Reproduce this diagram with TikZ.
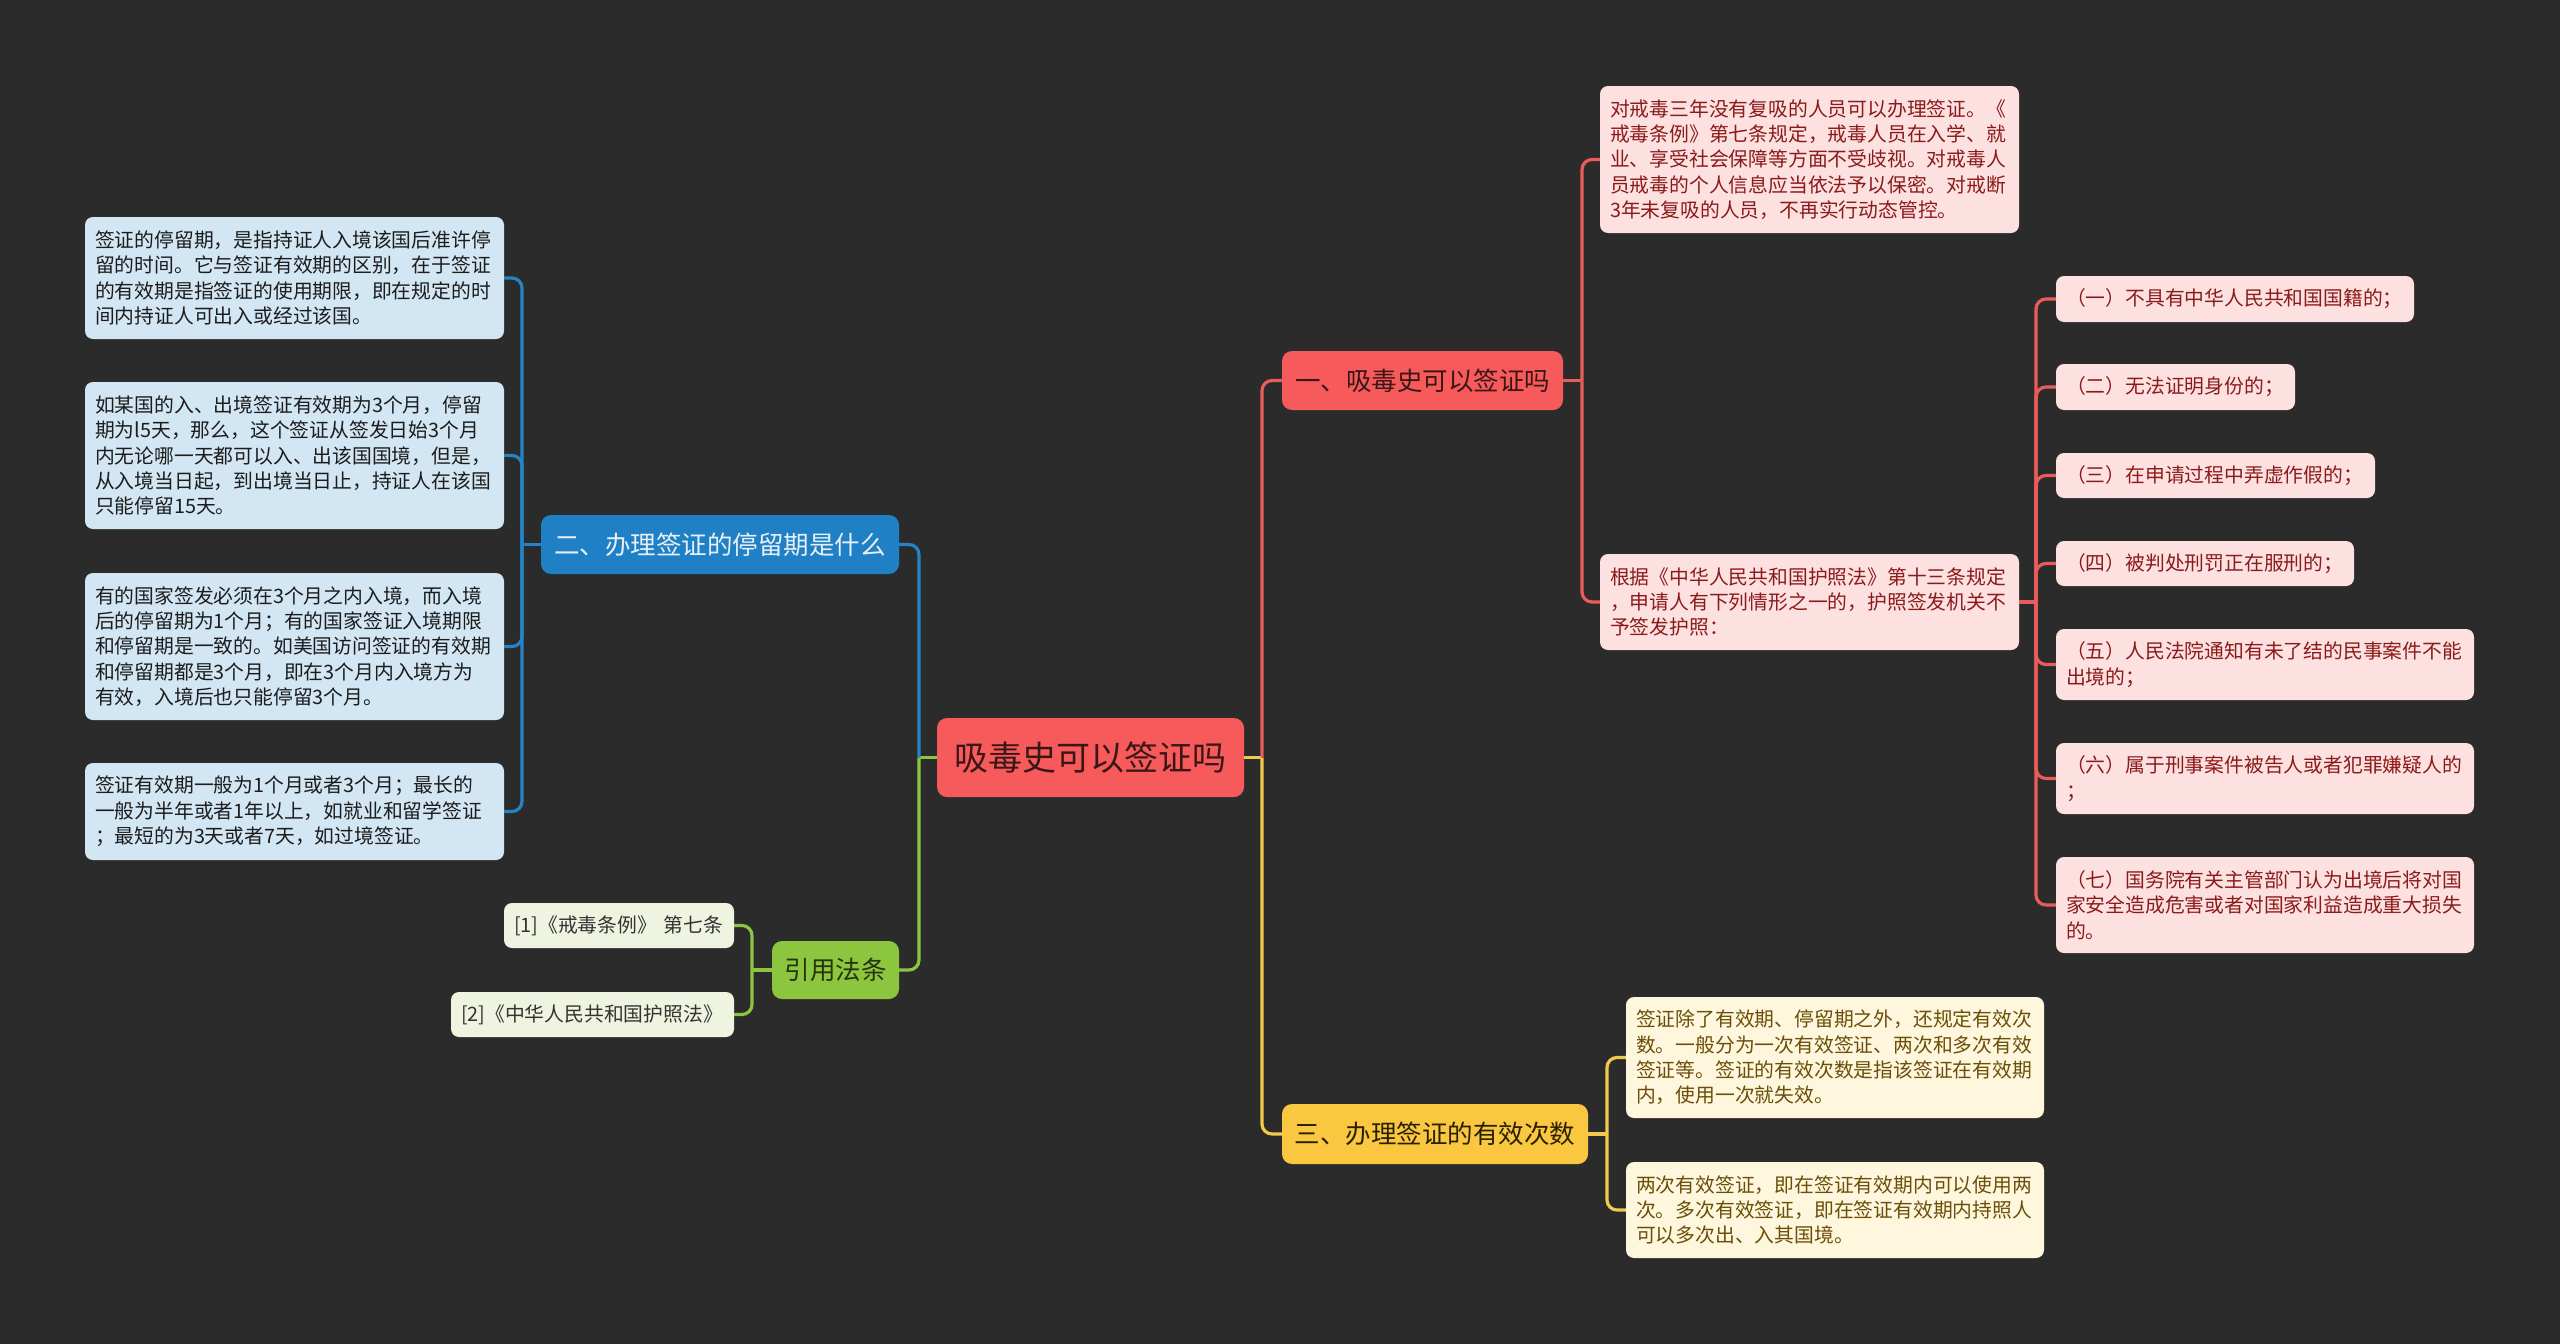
\documentclass[tikz,border=0pt]{standalone}
\usepackage{fontspec}
\setmainfont{Noto Sans CJK SC}
\definecolor{bg}{HTML}{2B2B2B}
\definecolor{rmain}{HTML}{F65A5B}
\definecolor{rline}{HTML}{EA5C5C}
\definecolor{rlight}{HTML}{FDE1E1}
\definecolor{rtext}{HTML}{8B1A1A}
\definecolor{rdark}{HTML}{3A1616}
\definecolor{bmain}{HTML}{1F80C6}
\definecolor{bline}{HTML}{2584C7}
\definecolor{blight}{HTML}{D3E6F3}
\definecolor{btext}{HTML}{1C1C1C}
\definecolor{bhead}{HTML}{E8F0F7}
\definecolor{gmain}{HTML}{8CC63F}
\definecolor{glight}{HTML}{EEF4DF}
\definecolor{gtext}{HTML}{333333}
\definecolor{ghead}{HTML}{26330E}
\definecolor{ymain}{HTML}{F9C740}
\definecolor{yline}{HTML}{F3C94A}
\definecolor{ylight}{HTML}{FEF7DE}
\definecolor{ytext}{HTML}{6B4E07}
\definecolor{yhead}{HTML}{2A2000}
\begin{document}
\begin{tikzpicture}[x=1pt,y=-1pt,
  leaf/.style={rounded corners=8pt, inner xsep=10pt, inner ysep=0pt, align=left, anchor=center,
    font=\fontsize{19.8pt}{25.3pt}\selectfont},
  redleaf/.style={leaf, fill=rlight, text=rtext},
  blueleaf/.style={leaf, fill=blight, text=btext},
  greenleaf/.style={leaf, fill=glight, text=gtext},
  yellowleaf/.style={leaf, fill=ylight, text=ytext},
  branch/.style={rounded corners=10pt, inner sep=0pt, anchor=center, align=center,
    font=\fontsize{25.5pt}{30pt}\selectfont},
  conn/.style={line width=3.2pt, rounded corners=10pt},
]
\fill[bg] (0,0) rectangle (2560,1344);

% centre
\node[branch, fill=rmain, text=rdark, minimum width=307pt, minimum height=79pt,
  font=\fontsize{34pt}{40pt}\selectfont] (c) at (1090.5,757.5) {吸毒史可以签证吗};

% main branches
\node[branch, fill=rmain, text=rdark, minimum width=281pt, minimum height=59pt] (b1) at (1422.5,380.5) {一、吸毒史可以签证吗};
\node[branch, fill=bmain, text=bhead, minimum width=358pt, minimum height=59pt] (b2) at (720,544.5) {二、办理签证的停留期是什么};
\node[branch, fill=gmain, text=ghead, minimum width=127pt, minimum height=58pt] (b3) at (835.5,970) {引用法条};
\node[branch, fill=ymain, text=yhead, minimum width=306pt, minimum height=60pt] (b4) at (1435,1134) {三、办理签证的有效次数};

% branch 1 children
\node[redleaf, text width=399pt, minimum height=147pt] (r1) at (1809.5,159.5) {对戒毒三年没有复吸的人员可以办理签证。《\\戒毒条例》第七条规定，戒毒人员在入学、就\\业、享受社会保障等方面不受歧视。对戒毒人\\员戒毒的个人信息应当依法予以保密。对戒断\\3年未复吸的人员，不再实行动态管控。};
\node[redleaf, text width=399pt, minimum height=96pt] (r2) at (1809.5,602) {根据《中华人民共和国护照法》第十三条规定\\，申请人有下列情形之一的，护照签发机关不\\予签发护照：};

\node[redleaf, text width=338pt, minimum height=46pt] (i1) at (2235,299) {（一）不具有中华人民共和国国籍的；};
\node[redleaf, text width=219pt, minimum height=46pt] (i2) at (2175.5,387) {（二）无法证明身份的；};
\node[redleaf, text width=299pt, minimum height=45pt] (i3) at (2215.5,475.5) {（三）在申请过程中弄虚作假的；};
\node[redleaf, text width=278pt, minimum height=45pt] (i4) at (2205,563.5) {（四）被判处刑罚正在服刑的；};
\node[redleaf, text width=398pt, minimum height=71pt] (i5) at (2265,664.5) {（五）人民法院通知有未了结的民事案件不能\\出境的；};
\node[redleaf, text width=398pt, minimum height=71pt] (i6) at (2265,778.5) {（六）属于刑事案件被告人或者犯罪嫌疑人的\\；};
\node[redleaf, text width=398pt, minimum height=96pt] (i7) at (2265,905) {（七）国务院有关主管部门认为出境后将对国\\家安全造成危害或者对国家利益造成重大损失\\的。};

% branch 3 (yellow) children
\node[yellowleaf, text width=398pt, minimum height=121pt] (y1) at (1835,1057.5) {签证除了有效期、停留期之外，还规定有效次\\数。一般分为一次有效签证、两次和多次有效\\签证等。签证的有效次数是指该签证在有效期\\内，使用一次就失效。};
\node[yellowleaf, text width=398pt, minimum height=96pt] (y2) at (1835,1210) {两次有效签证，即在签证有效期内可以使用两\\次。多次有效签证，即在签证有效期内持照人\\可以多次出、入其国境。};

% branch 2 (blue) children
\node[blueleaf, text width=399pt, minimum height=122pt] (a1) at (294.5,278) {签证的停留期，是指持证人入境该国后准许停\\留的时间。它与签证有效期的区别，在于签证\\的有效期是指签证的使用期限，即在规定的时\\间内持证人可出入或经过该国。};
\node[blueleaf, text width=399pt, minimum height=147pt] (a2) at (294.5,455.5) {如某国的入、出境签证有效期为3个月，停留\\期为l5天，那么，这个签证从签发日始3个月\\内无论哪一天都可以入、出该国国境，但是，\\从入境当日起，到出境当日止，持证人在该国\\只能停留15天。};
\node[blueleaf, text width=399pt, minimum height=147pt] (a3) at (294.5,646.5) {有的国家签发必须在3个月之内入境，而入境\\后的停留期为1个月；有的国家签证入境期限\\和停留期是一致的。如美国访问签证的有效期\\和停留期都是3个月，即在3个月内入境方为\\有效，入境后也只能停留3个月。};
\node[blueleaf, text width=399pt, minimum height=97pt] (a4) at (294.5,811.5) {签证有效期一般为1个月或者3个月；最长的\\一般为半年或者1年以上，如就业和留学签证\\；最短的为3天或者7天，如过境签证。};

% green children
\node[greenleaf, text width=210pt, minimum height=45pt] (g1) at (619,925.5) {[1]《戒毒条例》 第七条};
\node[greenleaf, text width=263pt, minimum height=45pt] (g2) at (592.5,1014.5) {[2]《中华人民共和国护照法》};

% junction coordinates
\coordinate (jr) at (1262,757.5);
\coordinate (jl) at (919,757.5);
\coordinate (j1) at (1582,380.5);
\coordinate (j2) at (2036,602);
\coordinate (j4) at (1607,1134);
\coordinate (jb) at (522,544.5);
\coordinate (jg) at (752,970);

% main connectors
\draw[conn, yline] (c.east) -- (jr);
\draw[conn, yline] (jr) |- (b4.west);
\draw[conn, rline] (jr) |- (b1.west);
\draw[conn, gmain] (c.west) -- (jl);
\draw[conn, gmain] (jl) |- (b3.east);
\draw[conn, bline] (jl) |- (b2.east);

% branch 1
\draw[conn, rline] (b1.east) -- (j1);
\draw[conn, rline] (j1) |- (r1.west);
\draw[conn, rline] (j1) |- (r2.west);
\draw[conn, rline] (r2.east) -- (j2);
\foreach \n in {i1,i2,i3,i4,i5,i6,i7}{
  \draw[conn, rline] (j2) |- (\n.west);
}

% branch 4
\draw[conn, yline] (b4.east) -- (j4);
\draw[conn, yline] (j4) |- (y1.west);
\draw[conn, yline] (j4) |- (y2.west);

% branch 2
\draw[conn, bline] (b2.west) -- (jb);
\foreach \n in {a1,a2,a3,a4}{
  \draw[conn, bline] (jb) |- (\n.east);
}

% branch 3
\draw[conn, gmain] (b3.west) -- (jg);
\draw[conn, gmain] (jg) |- (g1.east);
\draw[conn, gmain] (jg) |- (g2.east);
\end{tikzpicture}
\end{document}
